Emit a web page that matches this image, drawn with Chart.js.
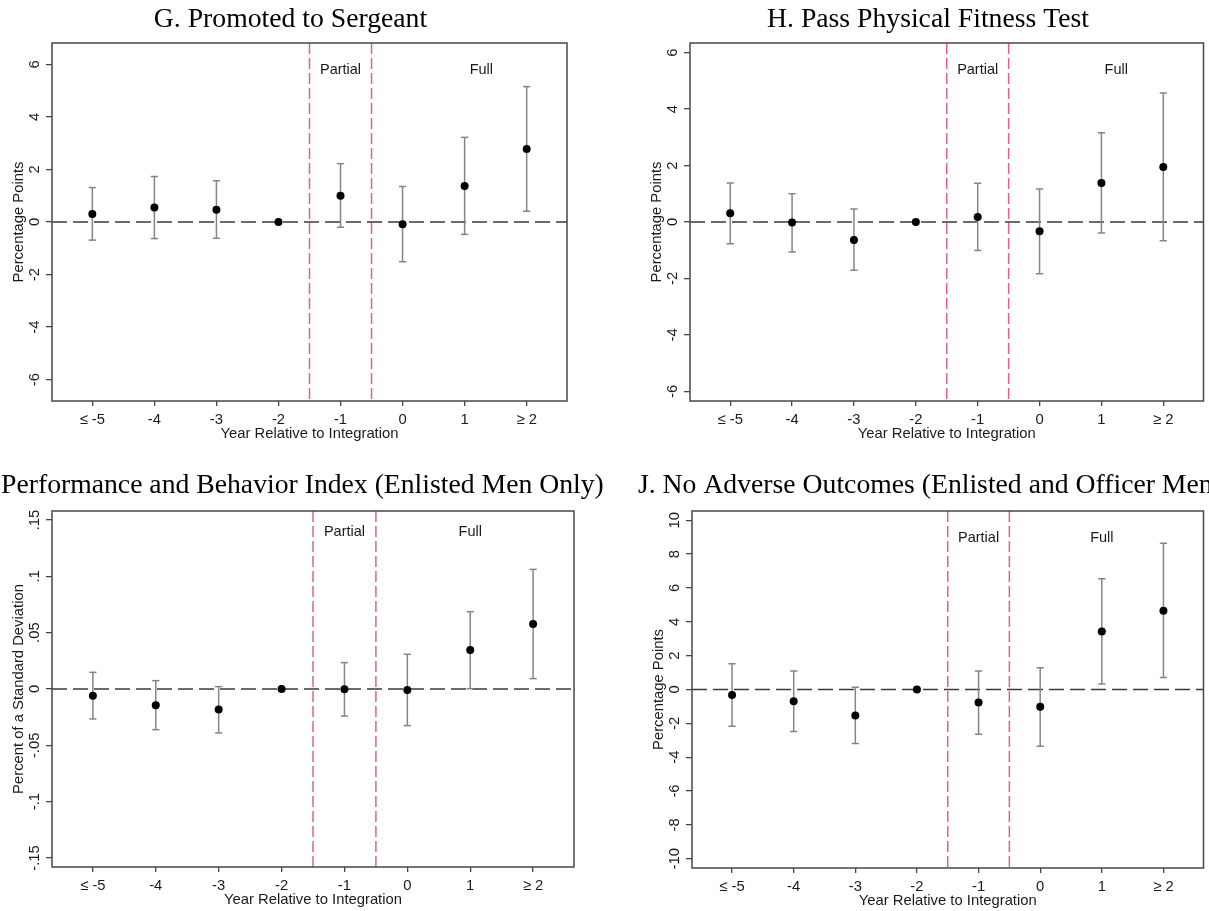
<!DOCTYPE html>
<html>
<head>
<meta charset="utf-8">
<script src="https://cdn.jsdelivr.net/npm/chart.js@4.4.1/dist/chart.umd.min.js"></script>
<style>
html, body { margin: 0; padding: 0; background: #ffffff; }
#wrap { position: relative; width: 1209px; height: 911px; overflow: hidden; background: #fff; }
.cell { position: absolute; }
</style>
</head>
<body>
<div id="wrap">
  <div class="cell" style="left:0px;top:0px;width:604px;height:455px"><canvas id="cG"></canvas></div>
  <div class="cell" style="left:605px;top:0px;width:604px;height:455px"><canvas id="cH"></canvas></div>
  <div class="cell" style="left:0px;top:455px;width:604px;height:456px"><canvas id="cI"></canvas></div>
  <div class="cell" style="left:605px;top:455px;width:604px;height:456px"><canvas id="cJ"></canvas></div>
</div>
<script>
// ---------- data ----------
const categories = ['≤ -5', '-4', '-3', '-2', '-1', '0', '1', '≥ 2'];
const phaseLines = [3.5, 4.5];
const phaseNames = ['Partial', 'Full'];

// G. Promoted to Sergeant
const gEst = [0.30, 0.55, 0.47, 0, 1.00, -0.09, 1.37, 2.78];
const gLo  = [-0.69, -0.63, -0.62, null, -0.20, -1.51, -0.47, 0.41];
const gHi  = [1.31, 1.73, 1.57, null, 2.22, 1.35, 3.22, 5.15];
const gTicks = [-6, -4, -2, 0, 2, 4, 6];
const gTickLabels = ['-6', '-4', '-2', '0', '2', '4', '6'];

// H. Pass Physical Fitness Test
const hEst = [0.31, -0.02, -0.64, 0, 0.18, -0.33, 1.38, 1.95];
const hLo  = [-0.77, -1.06, -1.71, null, -1.01, -1.83, -0.39, -0.66];
const hHi  = [1.38, 1.00, 0.46, null, 1.37, 1.17, 3.16, 4.57];
const hTicks = [-6, -4, -2, 0, 2, 4, 6];
const hTickLabels = ['-6', '-4', '-2', '0', '2', '4', '6'];

// I. Performance and Behavior Index
const iEst = [-0.0059, -0.0145, -0.0183, 0, -0.0003, -0.0009, 0.0346, 0.0577];
const iLo  = [-0.0266, -0.0361, -0.0390, null, -0.0240, -0.0325, 0.0003, 0.0092];
const iHi  = [0.0148, 0.0074, 0.0021, null, 0.0234, 0.0308, 0.0686, 0.1062];
const iTicks = [-0.15, -0.1, -0.05, 0, 0.05, 0.1, 0.15];
const iTickLabels = ['-.15', '-.1', '-.05', '0', '.05', '.1', '.15'];

// J. No Adverse Outcomes
const jEst = [-0.33, -0.69, -1.54, 0, -0.77, -1.02, 3.43, 4.65];
const jLo  = [-2.17, -2.48, -3.19, null, -2.64, -3.35, 0.33, 0.71];
const jHi  = [1.52, 1.10, 0.14, null, 1.10, 1.28, 6.54, 8.65];
const jTicks = [-10, -8, -6, -4, -2, 0, 2, 4, 6, 8, 10];
const jTickLabels = ['-10', '-8', '-6', '-4', '-2', '0', '2', '4', '6', '8', '10'];

// ---------- style ----------
const SANS = "'Liberation Sans', Arial, sans-serif";
const SERIF = "'Liberation Serif', 'Times New Roman', serif";
const FS = 14.8;
const AXIS_COLOR = '#474747';
const BAR_COLOR = '#858585';
const RED = '#e06482';
const TEXT = '#1a1a1a';

Chart.defaults.font.family = SANS;
Chart.defaults.font.size = FS;
Chart.defaults.color = TEXT;

const measureCtx = document.createElement('canvas').getContext('2d');
function textW(s) { measureCtx.font = FS + 'px ' + SANS; return measureCtx.measureText(s).width; }

const decor = {
  id: 'decor',
  beforeDatasetsDraw(chart, args, o) {
    const { ctx, chartArea: a, scales: { x, y } } = chart;
    ctx.save();
    ctx.beginPath(); ctx.rect(a.left, a.top, a.right - a.left, a.bottom - a.top); ctx.clip();
    // zero reference line
    const y0 = y.getPixelForValue(0);
    ctx.strokeStyle = '#3a3a3a'; ctx.lineWidth = 1.5; ctx.setLineDash([15, 6]);
    ctx.beginPath(); ctx.moveTo(a.left, y0); ctx.lineTo(a.right, y0); ctx.stroke();
    // phase lines
    ctx.strokeStyle = RED; ctx.lineWidth = 1.5; ctx.setLineDash([11, 4]);
    phaseLines.forEach(v => {
      const px = x.getPixelForValue(v);
      ctx.beginPath(); ctx.moveTo(px, a.top); ctx.lineTo(px, a.bottom); ctx.stroke();
    });
    ctx.restore();
  },
  afterDatasetsDraw(chart, args, o) {
    const { ctx, chartArea: a, scales: { x, y } } = chart;
    ctx.save();
    ctx.strokeStyle = AXIS_COLOR; ctx.lineWidth = 1.5; ctx.setLineDash([]);
    ctx.strokeRect(a.left, a.top, a.right - a.left, a.bottom - a.top);
    ctx.fillStyle = TEXT; ctx.font = '14.5px ' + SANS;
    ctx.textAlign = 'center'; ctx.textBaseline = 'middle';
    phaseNames.forEach((t, k) => {
      ctx.fillText(t, x.getPixelForValue(o.labelX[k]), y.getPixelForValue(o.labelY));
    });
    ctx.restore();
  },
  afterDraw(chart, args, o) {
    const { ctx } = chart;
    ctx.save();
    ctx.fillStyle = '#000'; ctx.font = '27.7px ' + SERIF;
    ctx.textAlign = o.titleAlign; ctx.textBaseline = 'alphabetic';
    ctx.fillText(o.title, o.titleX, o.titleY);
    ctx.restore();
  }
};

function makePanel(id, p) {
  const widest = Math.max(...p.tickLabels.map(textW));
  const points = p.est.map((v, i) => ({ x: i, y: v }));
  const caps = [];
  const stems = [];
  p.est.forEach((v, i) => {
    if (p.lo[i] === null) return;
    caps.push({ x: i, y: p.lo[i] }, { x: i, y: p.hi[i] });
    stems.push({ x: i, y: p.lo[i] }, { x: i, y: p.hi[i] }, { x: i, y: null });
  });
  new Chart(document.getElementById(id), {
    type: 'scatter',
    data: {
      datasets: [
        { data: points, pointRadius: 4, pointBackgroundColor: '#000', pointBorderWidth: 0, showLine: false },
        { data: caps, pointStyle: 'line', pointRadius: 3.6, pointBorderColor: BAR_COLOR, pointBorderWidth: 1.5, showLine: false },
        { data: stems, showLine: true, pointRadius: 0, borderColor: BAR_COLOR, borderWidth: 1.5, spanGaps: false }
      ]
    },
    options: {
      responsive: true, maintainAspectRatio: false, animation: false, devicePixelRatio: 1,
      layout: { padding: p.pad },
      plugins: {
        legend: { display: false }, tooltip: { enabled: false },
        decor: { title: p.title, titleX: p.titleX, titleY: p.titleY, titleAlign: p.titleAlign, labelX: p.labelX, labelY: p.labelY }
      },
      scales: {
        x: {
          type: 'linear', min: -0.65, max: 7.65,
          afterBuildTicks: s => { s.ticks = categories.map((c, i) => ({ value: i })); },
          afterFit: s => { s.height = 40; },
          ticks: { autoSkip: false, maxRotation: 0, minRotation: 0, padding: 5, color: TEXT,
                   callback: (v, i) => categories[i] },
          grid: { drawOnChartArea: false, drawTicks: true, tickLength: 5, color: AXIS_COLOR, lineWidth: 1.3 },
          border: { display: false },
          title: { display: true, text: 'Year Relative to Integration', padding: { top: 0, bottom: -2 }, color: TEXT }
        },
        y: {
          type: 'linear', min: p.yMin, max: p.yMax,
          afterBuildTicks: s => { s.ticks = p.ticks.map(v => ({ value: v })); },
          afterFit: s => { s.width = 52; },
          ticks: { autoSkip: false, minRotation: 90, maxRotation: 90, crossAlign: 'center',
                   padding: 11 - widest / 2, color: TEXT,
                   callback: (v, i) => p.tickLabels[i] },
          grid: { drawOnChartArea: false, drawTicks: true, tickLength: 6, color: AXIS_COLOR, lineWidth: 1.3 },
          border: { display: false },
          title: { display: true, text: p.yTitle, padding: { top: 10, bottom: 0 }, color: TEXT }
        }
      }
    },
    plugins: [decor]
  });
}

makePanel('cG', {
  est: gEst, lo: gLo, hi: gHi, ticks: gTicks, tickLabels: gTickLabels,
  yMin: -6.81, yMax: 6.81, yTitle: 'Percentage Points',
  pad: { left: 0, right: 37, top: 43, bottom: 14 },
  title: 'G. Promoted to Sergeant', titleX: 290.5, titleY: 27, titleAlign: 'center',
  labelX: [4, 6.27], labelY: 5.78
});
makePanel('cH', {
  est: hEst, lo: hLo, hi: hHi, ticks: hTicks, tickLabels: hTickLabels,
  yMin: -6.34, yMax: 6.34, yTitle: 'Percentage Points',
  pad: { left: 33, right: 5, top: 43, bottom: 14 },
  title: 'H. Pass Physical Fitness Test', titleX: 323, titleY: 27, titleAlign: 'center',
  labelX: [4, 6.24], labelY: 5.39
});
makePanel('cI', {
  est: iEst, lo: iLo, hi: iHi, ticks: iTicks, tickLabels: iTickLabels,
  yMin: -0.158, yMax: 0.158, yTitle: 'Percent of a Standard Deviation',
  pad: { left: 0, right: 30, top: 56, bottom: 4 },
  title: 'Performance and Behavior Index (Enlisted Men Only)', titleX: 1, titleY: 38, titleAlign: 'left',
  labelX: [4, 6], labelY: 0.1396
});
makePanel('cJ', {
  est: jEst, lo: jLo, hi: jHi, ticks: jTicks, tickLabels: jTickLabels,
  yMin: -10.55, yMax: 10.55, yTitle: 'Percentage Points',
  pad: { left: 35, right: 1, top: 56, bottom: 3 },
  title: 'J. No Adverse Outcomes (Enlisted and Officer Men', titleX: 33, titleY: 38, titleAlign: 'left',
  labelX: [4, 6], labelY: 8.97
});
</script>
</body>
</html>
